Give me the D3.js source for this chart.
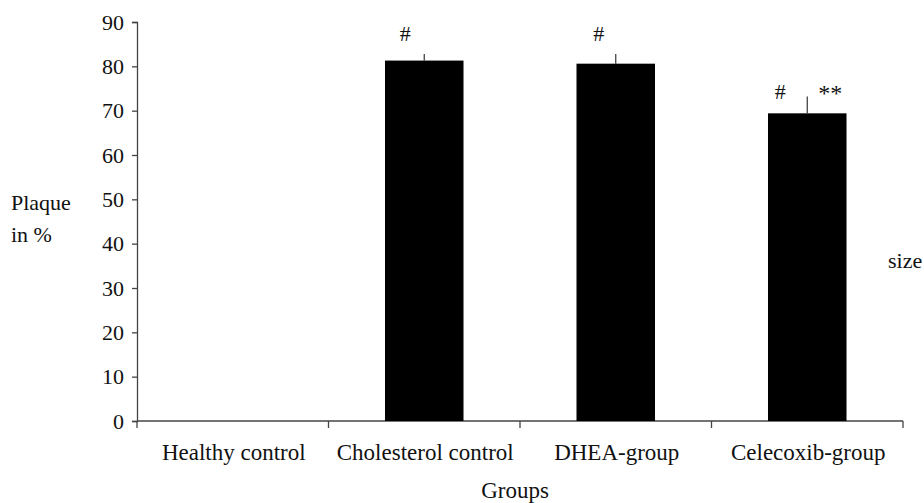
<!DOCTYPE html>
<html><head><meta charset="utf-8">
<script src="https://cdn.jsdelivr.net/npm/d3@7"></script>
<style>body{margin:0;background:#fff;} text{font-family:"Liberation Serif","Times New Roman",serif;fill:#111;}</style>
</head><body>
<svg id="c" width="924" height="503"></svg>
<script>
const categories = ["Healthy control", "Cholesterol control", "DHEA-group", "Celecoxib-group"];
const values = [0, 81.3, 80.6, 69.4];
const errUpper = [0, 82.8, 82.8, 73.2];
const yTicks = [0, 10, 20, 30, 40, 50, 60, 70, 80, 90];
const marksLeft = ["", "#", "#", "#"];
const marksRight = ["", "", "", "**"];

const svg = d3.select("#c");
const x = d3.scaleBand().domain(categories).range([137, 903]).paddingInner(0).paddingOuter(0);
const y = d3.scaleLinear().domain([0, 90]).range([421, 22]);
const barW = x.bandwidth() * 0.41;

// y axis
const yAxis = svg.append("g").attr("transform", "translate(137,0)")
  .call(d3.axisLeft(y).tickValues(yTicks).tickSize(5).tickPadding(8).tickFormat(d3.format("d")));
yAxis.selectAll("path,line").attr("stroke", "#444").attr("stroke-width", 1.3);
yAxis.selectAll("text").style("font-size", "22px").attr("fill", "#111");

// x axis
const xAxis = svg.append("g").attr("transform", "translate(0,421)");
xAxis.append("line").attr("x1", 137).attr("x2", 903).attr("stroke", "#444").attr("stroke-width", 1.3);
const edges = categories.map(c => x(c)).concat([x(categories[categories.length-1]) + x.bandwidth()]);
xAxis.selectAll("line.tk").data(edges).enter().append("line").attr("class", "tk")
  .attr("x1", d => d).attr("x2", d => d).attr("y1", 0).attr("y2", 7)
  .attr("stroke", "#444").attr("stroke-width", 1.3);
xAxis.selectAll("text").data(categories).enter().append("text")
  .attr("x", d => x(d) + x.bandwidth()/2 + 1).attr("y", 39)
  .attr("text-anchor", "middle").style("font-size", "23px").text(d => d);

// error bars
svg.selectAll("line.err").data(categories.filter((c,i) => values[i] > 0)).enter().append("line")
  .attr("class", "err")
  .attr("x1", d => x(d) + x.bandwidth()/2).attr("x2", d => x(d) + x.bandwidth()/2)
  .attr("y1", d => y(values[categories.indexOf(d)]))
  .attr("y2", d => y(errUpper[categories.indexOf(d)]))
  .attr("stroke", "#333").attr("stroke-width", 1.2);

// bars
svg.selectAll("rect.bar").data(categories).enter().append("rect").attr("class", "bar")
  .attr("x", d => x(d) + x.bandwidth()/2 - barW/2)
  .attr("width", barW)
  .attr("y", (d,i) => y(values[i]))
  .attr("height", (d,i) => y(0) - y(values[i]))
  .attr("fill", "#000");

// significance marks
const leftOff = [0, -19, -17, -27];
svg.selectAll("text.ml").data(categories).enter().append("text").attr("class", "ml")
  .attr("x", (d,i) => x(d) + x.bandwidth()/2 + leftOff[i])
  .attr("y", (d,i) => y(errUpper[i]) + (i === 3 ? 3 : -13))
  .attr("text-anchor", "middle").style("font-size", "22px").text((d,i) => marksLeft[i]);
svg.selectAll("text.mr").data(categories).enter().append("text").attr("class", "mr")
  .attr("x", (d,i) => x(d) + x.bandwidth()/2 + 23)
  .attr("y", (d,i) => y(errUpper[i]) + 5)
  .attr("text-anchor", "middle").style("font-size", "24px").text((d,i) => marksRight[i]);

// labels
svg.append("text").attr("x", 11).attr("y", 210).style("font-size", "22px").text("Plaque");
svg.append("text").attr("x", 11).attr("y", 242).style("font-size", "22px").text("in %");
svg.append("text").attr("x", 888).attr("y", 268).style("font-size", "22px").text("size");
svg.append("text").attr("x", 515).attr("y", 498).attr("text-anchor", "middle").style("font-size", "23px").text("Groups");
</script>
</body></html>
